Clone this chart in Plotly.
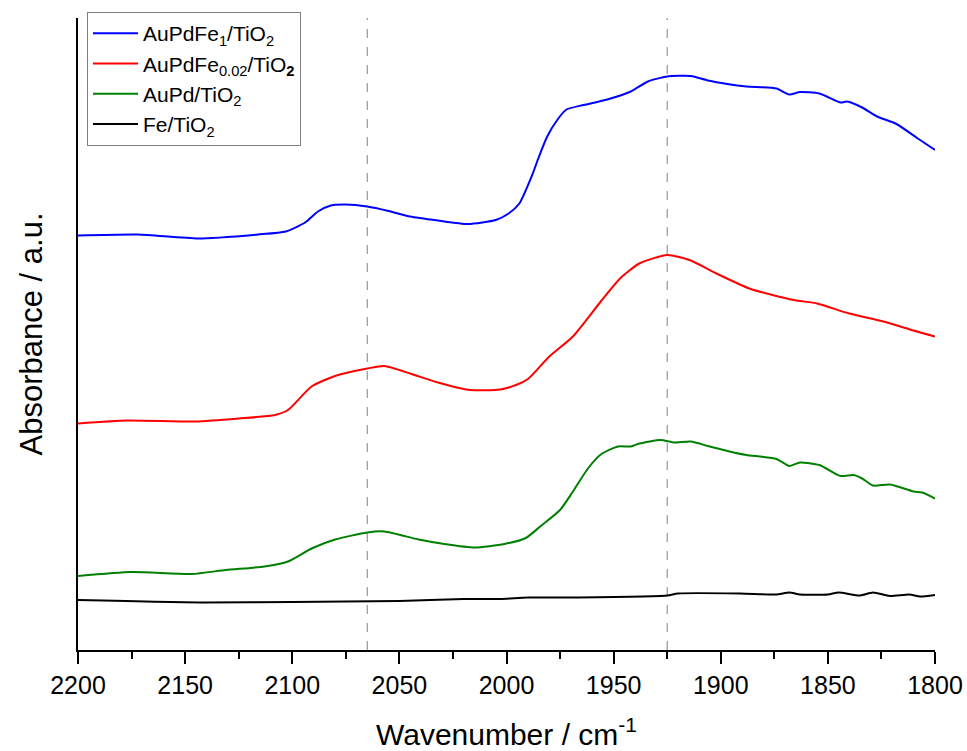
import plotly.graph_objects as go

# Wavenumber (cm^-1) and absorbance (a.u., offset stacked)
wn_aupdfe1 = [2200, 2172, 2144, 2116, 2103, 2094, 2088, 2082, 2075, 2065, 2055, 2045, 2032, 2018,
              2005, 1999, 1994, 1988, 1985, 1981, 1976, 1972, 1964, 1953, 1942, 1934, 1925, 1914, 1906,
              1897, 1888, 1874, 1868, 1863, 1854, 1844, 1841, 1834, 1827, 1818, 1808, 1800]
ab_aupdfe1 = [0.829, 0.831, 0.823, 0.831, 0.837, 0.855, 0.877, 0.889, 0.891, 0.887, 0.878, 0.867, 0.859, 0.852,
              0.860, 0.873, 0.893, 0.950, 0.985, 1.027, 1.062, 1.081, 1.090, 1.101, 1.117, 1.137, 1.147, 1.148, 1.139,
              1.132, 1.127, 1.123, 1.111, 1.116, 1.113, 1.095, 1.097, 1.085, 1.067, 1.052, 1.023, 1.000]

wn_aupdfe002 = [2200, 2177, 2145, 2125, 2108, 2102, 2091, 2080, 2065, 2057, 2045, 2032, 2017, 2003,
                1995, 1990, 1980, 1969, 1956, 1947, 1938, 1925, 1914, 1902, 1886, 1866, 1855, 1840,
                1824, 1810, 1800]
ab_aupdfe002 = [0.453, 0.459, 0.457, 0.463, 0.470, 0.480, 0.527, 0.548, 0.563, 0.568, 0.553, 0.535, 0.520, 0.521,
                0.531, 0.542, 0.587, 0.627, 0.697, 0.743, 0.773, 0.790, 0.779, 0.753, 0.722, 0.700, 0.693, 0.673,
                0.657, 0.639, 0.627]

wn_aupd = [2200, 2175, 2147, 2131, 2113, 2102, 2091, 2080, 2065, 2057, 2041, 2029, 2015, 2001,
           1991, 1984, 1975, 1969, 1962, 1956, 1948, 1942, 1938, 1928, 1922, 1914, 1906, 1894,
           1888, 1874, 1868, 1863, 1854, 1844, 1838, 1834, 1829, 1821, 1810, 1806, 1800]
ab_aupd = [0.148, 0.156, 0.152, 0.160, 0.167, 0.177, 0.203, 0.221, 0.235, 0.237, 0.221, 0.212, 0.205, 0.212,
           0.224, 0.248, 0.280, 0.317, 0.363, 0.391, 0.407, 0.407, 0.413, 0.420, 0.415, 0.417, 0.408, 0.395,
           0.390, 0.382, 0.368, 0.375, 0.370, 0.348, 0.350, 0.343, 0.329, 0.331, 0.317, 0.315, 0.303]

wn_fe = [2200, 2140, 2100, 2050, 2020, 2003, 1990, 1972, 1925, 1920, 1891, 1874, 1868, 1863,
         1850, 1845, 1835, 1829, 1821, 1812, 1807, 1800]
ab_fe = [0.100, 0.095, 0.096, 0.098, 0.102, 0.102, 0.105, 0.105, 0.109, 0.113, 0.113, 0.111, 0.115, 0.111,
         0.111, 0.115, 0.109, 0.115, 0.108, 0.111, 0.107, 0.110]

series = [
    ("AuPdFe<sub>1</sub>/TiO<sub>2</sub>", wn_aupdfe1, ab_aupdfe1, "#0000FF"),
    ("AuPdFe<sub>0.02</sub>/TiO<sub><b>2</b></sub>", wn_aupdfe002, ab_aupdfe002, "#FF0000"),
    ("AuPd/TiO<sub>2</sub>", wn_aupd, ab_aupd, "#008000"),
    ("Fe/TiO<sub>2</sub>", wn_fe, ab_fe, "#000000"),
]

marker_lines = [2065, 1925]

fig = go.Figure()
for name, x, y, c in series:
    fig.add_trace(go.Scatter(x=x, y=y, mode="lines", name=name,
                             line=dict(color=c, width=2, shape="spline", smoothing=0.6)))

for wn in marker_lines:
    fig.add_shape(type="line", x0=wn, x1=wn, xref="x", y0=0, y1=1, yref="paper",
                  line=dict(color="#808080", width=1, dash="dash"), layer="below")

fig.update_layout(
    width=967, height=751,
    margin=dict(l=78, r=32, t=18, b=101, autoexpand=False),
    paper_bgcolor="white", plot_bgcolor="white",
    font=dict(family="Liberation Sans, Arial, sans-serif", color="black"),
    showlegend=True,
    legend=dict(x=0.0105, y=1.0095, xanchor="left", yanchor="top",
                bgcolor="white", bordercolor="#7f7f7f", borderwidth=1,
                font=dict(size=21), tracegroupgap=0, itemwidth=45),
    xaxis=dict(range=[2200, 1800], autorange=False, automargin=False,
               showline=True, linecolor="black", linewidth=2,
               ticks="outside", ticklen=12, tickwidth=2, tickcolor="black",
               tick0=1800, dtick=50, tickfont=dict(size=25),
               minor=dict(ticks="outside", ticklen=7, tickwidth=2, tickcolor="black", dtick=25, showgrid=False),
               showgrid=False, zeroline=False,
               title=dict(text="Wavenumber / cm<sup>-1</sup>", font=dict(size=30), standoff=28)),
    yaxis=dict(range=[0, 1.264], autorange=False, automargin=False,
               showline=True, linecolor="black", linewidth=2,
               ticks="", showticklabels=False, showgrid=False, zeroline=False,
               title=dict(text="Absorbance / a.u.", font=dict(size=31), standoff=24)),
)

fig.write_html("out.html")
